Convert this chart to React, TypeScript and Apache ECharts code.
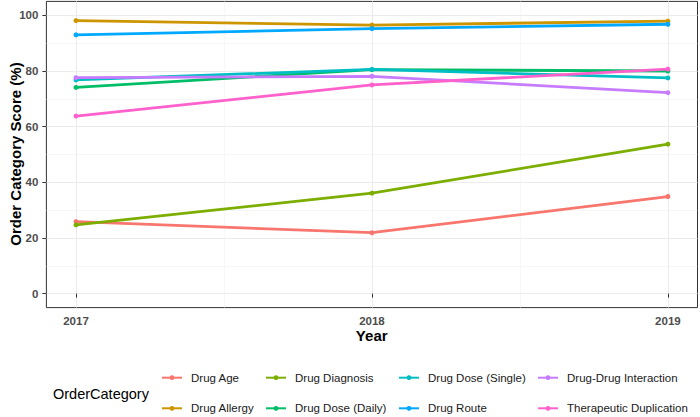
import React, { useEffect, useRef } from "react";
import * as echarts from "echarts";

const years = [2017, 2018, 2019];
const categories = [
  "Drug Age",
  "Drug Allergy",
  "Drug Diagnosis",
  "Drug Dose (Daily)",
  "Drug Dose (Single)",
  "Drug Route",
  "Drug-Drug Interaction",
  "Therapeutic Duplication",
];
const drugAge = [25.9, 21.9, 34.9];
const drugAllergy = [98.1, 96.5, 97.9];
const drugDiagnosis = [24.7, 36.1, 53.7];
const drugDoseDaily = [74.1, 80.5, 80.0];
const drugDoseSingle = [76.8, 80.6, 77.5];
const drugRoute = [93.0, 95.2, 96.8];
const drugDrugInteraction = [77.6, 78.1, 72.2];
const therapeuticDuplication = [63.8, 75.0, 80.7];
const seriesValues = [
  drugAge,
  drugAllergy,
  drugDiagnosis,
  drugDoseDaily,
  drugDoseSingle,
  drugRoute,
  drugDrugInteraction,
  therapeuticDuplication,
];
const colors = ["#F8766D", "#CD9600", "#7CAE00", "#00BE67", "#00BFC4", "#00A9FF", "#C77CFF", "#FF61CC"];
const yTicks = [0, 20, 40, 60, 80, 100];
const yMinor = [10, 30, 50, 70, 90];
const xMinor = [2017.5, 2018.5];

// legend layout: column-wise, 2 rows
const legendCols = [161, 265, 398, 537];
const legendRows = [370.7, 401.3];

const FONT = "'Liberation Sans', Arial, Helvetica, sans-serif";

export default function App() {
  const ref = useRef<HTMLDivElement>(null);
  useEffect(() => {
    if (!ref.current) return;
    const chart = echarts.init(ref.current, null, { renderer: "svg" });
    const gridLine = { color: "#EBEBEB", width: 1 };
    const minorLine = { color: "#F2F2F2", width: 0.6 };
    const legends = categories.map((name, i) => ({
      data: [name],
      left: legendCols[Math.floor(i / 2)],
      top: legendRows[i % 2],
      padding: 0,
      itemWidth: 20,
      itemHeight: 6,
      textStyle: {
        fontFamily: FONT,
        fontSize: 11.5,
        color: "#1A1A1A",
        lineHeight: 14,
        padding: [0, 0, 0, 4],
      },
    }));
    chart.setOption({
      animation: false,
      backgroundColor: "#FFFFFF",
      textStyle: { fontFamily: FONT },
      grid: {
        left: 46.4,
        right: 2.5,
        top: 1.4,
        bottom: 109.4,
        show: true,
        borderColor: "#333333",
        borderWidth: 1,
        backgroundColor: "transparent",
      },
      xAxis: [
        {
          type: "value",
          min: 2016.9,
          max: 2019.1,
          axisLine: { show: false },
          axisTick: { show: true, length: 4, customValues: years, lineStyle: { color: "#333333" } },
          axisLabel: {
            customValues: years,
            formatter: (v: number) => String(v),
            fontFamily: FONT,
            fontSize: 11.5,
            fontWeight: "bold",
            color: "#4D4D4D",
            margin: 7,
          },
          splitLine: { show: true, lineStyle: gridLine },
        },
        {
          type: "value",
          min: 2016.9,
          max: 2019.1,
          position: "bottom",
          axisLine: { show: false },
          axisTick: { show: false, customValues: xMinor },
          axisLabel: { show: false, customValues: xMinor },
          splitLine: { show: true, lineStyle: minorLine },
        },
      ],
      yAxis: [
        {
          type: "value",
          min: -5,
          max: 105,
          axisLine: { show: false },
          axisTick: { show: true, length: 4, customValues: yTicks, lineStyle: { color: "#333333" } },
          axisLabel: {
            customValues: yTicks,
            fontFamily: FONT,
            fontSize: 11.5,
            fontWeight: "bold",
            color: "#4D4D4D",
            margin: 8,
          },
          splitLine: { show: true, lineStyle: gridLine },
        },
        {
          type: "value",
          min: -5,
          max: 105,
          position: "left",
          axisLine: { show: false },
          axisTick: { show: false, customValues: yMinor },
          axisLabel: { show: false, customValues: yMinor },
          splitLine: { show: true, lineStyle: minorLine },
        },
      ],
      legend: legends,
      series: categories.map((name, i) => ({
        name,
        type: "line",
        xAxisIndex: 0,
        yAxisIndex: 0,
        data: years.map((y, j) => [y, seriesValues[i][j]]),
        symbol: "circle",
        symbolSize: 5,
        showSymbol: true,
        lineStyle: { width: 2.8, color: colors[i] },
        itemStyle: { color: colors[i] },
        z: 2 + i,
      })),
      graphic: [
        {
          type: "text",
          x: 371.7,
          y: 335,
          style: {
            text: "Year",
            fontFamily: FONT,
            fontSize: 15,
            fontWeight: "bold",
            fill: "#000000",
            align: "center",
            verticalAlign: "middle",
          },
        },
        {
          type: "text",
          x: 15,
          y: 154,
          rotation: Math.PI / 2,
          style: {
            text: "Order Category Score (%)",
            fontFamily: FONT,
            fontSize: 15,
            fontWeight: "bold",
            fill: "#000000",
            align: "center",
            verticalAlign: "middle",
          },
        },
        {
          type: "text",
          x: 53,
          y: 393.5,
          style: {
            text: "OrderCategory",
            fontFamily: FONT,
            fontSize: 14.5,
            fill: "#000000",
            align: "left",
            verticalAlign: "middle",
          },
        },
      ],
    });
    return () => chart.dispose();
  }, []);
  return <div ref={ref} style={{ width: 700, height: 417, position: "fixed", left: 0, top: 0 }} />;
}
